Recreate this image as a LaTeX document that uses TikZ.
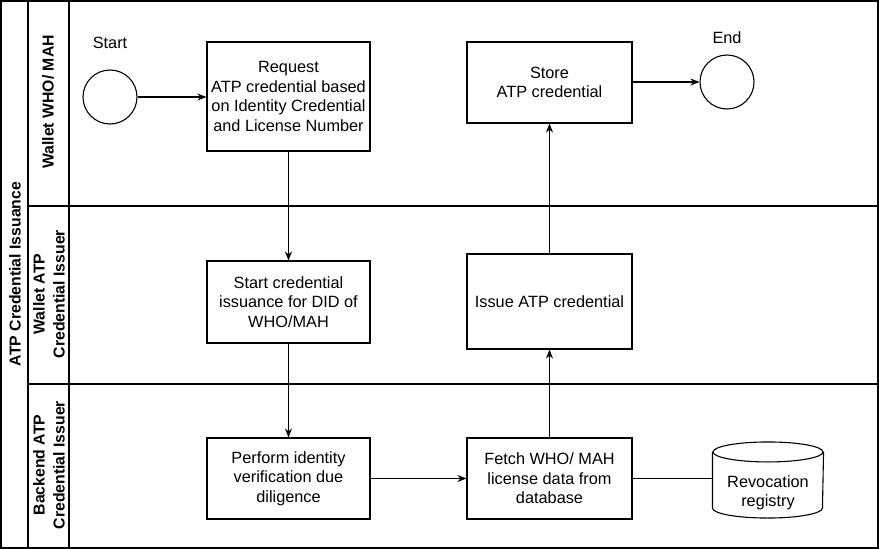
\documentclass[tikz,border=0pt]{standalone}
\usepackage{fontspec}
\setmainfont{Liberation Sans}
\usetikzlibrary{arrows.meta}
\begin{document}
\begin{tikzpicture}[x=1pt,y=-1pt,
  line width=1.1pt,
  txt/.style={font=\fontsize{16.3}{19.5}\selectfont, align=center},
  lane/.style={font=\bfseries\fontsize{15.8}{20}\selectfont, align=center, rotate=90},
  proc/.style={draw, rectangle, inner sep=0pt, txt},
  ev/.style={draw, circle, minimum size=54pt, inner sep=0pt},
  flow/.style={-{Stealth[length=9pt,width=7pt]}}
]
\useasboundingbox (0,0) rectangle (879,549);
% frame and lanes
\draw (1,1) rectangle (878,548);
\draw (28,1) -- (28,548);
\draw (69,1) -- (69,548);
\draw (28,206) -- (878,206);
\draw (28,384) -- (878,384);
% lane labels
\node[lane] (pool) at (15,274) {ATP Credential Issuance};
\node[lane] (l1) at (48,102) {Wallet WHO/ MAH};
\node[lane] (l2) at (49,294) {Wallet ATP\\Credential Issuer};
\node[lane] (l3) at (49,465) {Backend ATP\\Credential Issuer};
% events
\node[ev] (start) at (110,97) {};
\node[txt] (startlbl) at (110,43) {Start};
\node[ev] (end) at (727,82) {};
\node[txt] (endlbl) at (727,38) {End};
% processes
\node[proc, minimum width=163pt, minimum height=109pt] (req) at (288.5,96.5)
  {Request\\ATP credential based\\on Identity Credential\\and License Number};
\node[proc, minimum width=165pt, minimum height=81pt] (store) at (549.5,82.5)
  {Store\\ATP credential};
\node[proc, minimum width=163pt, minimum height=82pt] (startcred) at (288.5,302)
  {Start credential\\issuance for DID of\\WHO/MAH};
\node[proc, minimum width=165pt, minimum height=95pt] (issue) at (549.5,301.5)
  {Issue ATP credential};
\node[proc, minimum width=163pt, minimum height=81pt] (perform) at (288.5,478.5)
  {Perform identity\\verification due\\diligence};
\node[proc, minimum width=165pt, minimum height=81pt] (fetch) at (549.5,478.5)
  {Fetch WHO/ MAH\\license data from\\database};
% database cylinder
\node[minimum width=110pt, minimum height=75pt, inner sep=0pt] (reg) at (768,480) {};
\draw ([yshift=-10pt]reg.north west) -- ([yshift=10pt]reg.south west)
   arc (180:360:55pt and 10pt) -- ([yshift=-10pt]reg.north east);
\draw ([yshift=-10pt]reg.north) ellipse [x radius=55pt, y radius=10pt];
\node[txt] (reglbl) at (768,493) {Revocation\\registry};
% connectors
\draw[flow] (start) -- (req.west |- start);
\draw[flow] (req) -- (startcred);
\draw[flow] (startcred) -- (perform);
\draw[flow] (perform) -- (fetch);
\draw (fetch.east) -- (reg.west |- fetch.east);
\draw[flow] (fetch) -- (issue);
\draw[flow] (issue) -- (store);
\draw[flow] (store.east |- end) -- (end);
\end{tikzpicture}
\end{document}
